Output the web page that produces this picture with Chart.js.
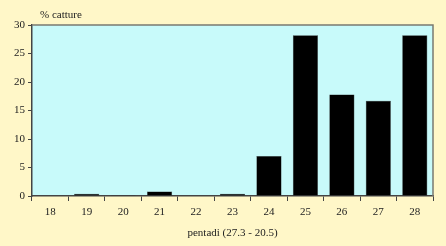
<!DOCTYPE html>
<html>
<head>
<meta charset="utf-8">
<script src="https://cdn.jsdelivr.net/npm/chart.js@4"></script>
<style>
  body { margin: 0; background: #FFF7C8; }
</style>
</head>
<body>
<canvas id="chart" width="446" height="246"></canvas>
<script>
var pentadi = ["18", "19", "20", "21", "22", "23", "24", "25", "26", "27", "28"];
var catture = [0, 0.4, 0.15, 0.8, 0, 0.4, 7.0, 28.2, 17.8, 16.7, 28.2];

Chart.defaults.font.family = "'Liberation Serif', 'Times New Roman', serif";
Chart.defaults.font.size = 11;
Chart.defaults.color = "#222";

// background colours, plot frame and the y axis caption
var backdrop = {
  id: "backdrop",
  beforeDraw: function (chart) {
    var ctx = chart.ctx, a = chart.chartArea;
    ctx.save();
    ctx.fillStyle = "#FFF7C8";
    ctx.fillRect(0, 0, chart.width, chart.height);
    ctx.fillStyle = "#C8FAFA";
    ctx.fillRect(a.left, a.top, a.right - a.left, a.bottom - a.top);
    ctx.restore();
  },
  afterDraw: function (chart) {
    var ctx = chart.ctx, a = chart.chartArea;
    ctx.save();
    ctx.strokeStyle = "#7a7a70";
    ctx.lineWidth = 1.5;
    ctx.beginPath();
    ctx.moveTo(a.left, a.top);
    ctx.lineTo(a.right, a.top);
    ctx.lineTo(a.right, a.bottom);
    ctx.stroke();
    ctx.fillStyle = "#222";
    ctx.font = "11px 'Liberation Serif', serif";
    ctx.textBaseline = "middle";
    ctx.fillText("% catture", 40, 15);
    ctx.restore();
  }
};

new Chart(document.getElementById("chart"), {
  type: "bar",
  data: {
    labels: pentadi,
    datasets: [{
      data: catture,
      backgroundColor: "#000000",
      borderColor: "#333333",
      borderWidth: 0.5,
      barPercentage: 0.69,
      categoryPercentage: 1.0
    }]
  },
  options: {
    responsive: false,
    animation: false,
    layout: { padding: { top: 25, right: 13, left: 0, bottom: 0 } },
    plugins: {
      legend: { display: false },
      tooltip: { enabled: false }
    },
    scales: {
      x: {
        afterFit: function (s) { s.height = 50; },
        grid: { drawOnChartArea: false, tickLength: 5, color: "#444", offset: true },
        border: { color: "#444", width: 1.5 },
        ticks: { padding: 5, color: "#222" },
        title: { display: true, text: "pentadi (27.3 - 20.5)", padding: { top: 6, bottom: 6 }, color: "#222" }
      },
      y: {
        min: 0,
        max: 30,
        afterFit: function (s) { s.width = 32; },
        grid: { drawOnChartArea: false, tickLength: 4, color: "#444" },
        border: { color: "#444", width: 1.5 },
        ticks: { stepSize: 5, padding: 3, color: "#222" }
      }
    }
  },
  plugins: [backdrop]
});
</script>
</body>
</html>
